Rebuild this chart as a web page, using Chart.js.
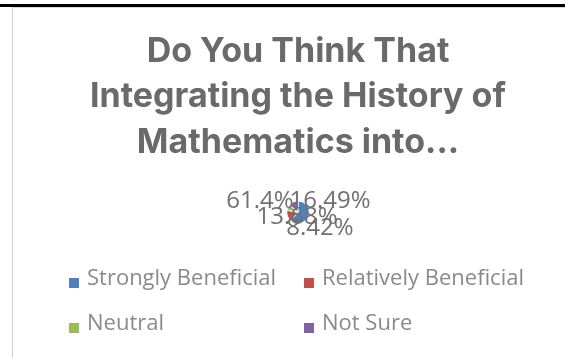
<!DOCTYPE html>
<html>
<head>
<meta charset="utf-8">
<script src="https://cdn.jsdelivr.net/npm/chart.js@4.4.1/dist/chart.umd.min.js"></script>
<style>
  html,body{margin:0;padding:0;background:#fff;}
  body{width:565px;height:358px;position:relative;overflow:hidden;}
  #rule{position:absolute;left:0;top:4px;width:565px;height:3px;background:#000;}
  #frame{position:absolute;left:12px;top:7px;width:600px;height:360px;border-left:1px solid #d0d0d0;border-top:1px solid #d9d9d9;box-sizing:border-box;}
  #c{position:absolute;left:0;top:0;}
</style>
</head>
<body>
<div id="rule"></div>
<div id="frame"></div>
<canvas id="c" width="565" height="358"></canvas>
<script>
const titleLines = ["Do You Think That", "Integrating the History of", "Mathematics into..."];
const categories = ["Strongly Beneficial", "Relatively Beneficial", "Neutral", "Not Sure"];
const values = [61.4, 16.49, 8.42, 13.68];
const valueLabels = ["61.4%", "16.49%", "8.42%", "13.68%"];
const colors = ["#4F81BD", "#C0504D", "#9BBB59", "#8064A2"];

// style: label offsets from pie centre (px)
const labelOffsets = [[-38,-11],[32,-11],[22,16],[-1,5]];

const labelPlugin = {
  id: 'labels',
  afterDatasetsDraw(chart) {
    const ctx = chart.ctx;
    const meta = chart.getDatasetMeta(0);
    const arc0 = meta.data[0];
    const cx = arc0.x, cy = arc0.y;
    ctx.save();
    ctx.font = '24px "Open Sans", sans-serif';
    ctx.fillStyle = '#707070';
    ctx.textAlign = 'center';
    ctx.textBaseline = 'middle';
    meta.data.forEach((arc, i) => {
      const o = labelOffsets[i];
      ctx.fillText(valueLabels[i], cx + o[0], cy + o[1]);
    });
    ctx.restore();
  }
};

const legendPlugin = {
  id: 'gridLegend',
  afterDraw(chart) {
    const ctx = chart.ctx;
    ctx.save();
    ctx.font = '22px "Open Sans", sans-serif';
    ctx.textBaseline = 'middle';
    const colX = [70, 305], rowY = [279, 324];
    categories.forEach((name, i) => {
      const x = colX[i % 2], y = rowY[Math.floor(i / 2)];
      ctx.fillStyle = colors[i];
      ctx.fillRect(x - 1, y - 1, 10, 10);
      ctx.fillStyle = '#8a8a8a';
      ctx.fillText(name, x + 17, y);
    });
    ctx.restore();
  }
};

new Chart(document.getElementById('c'), {
  type: 'pie',
  data: {
    labels: categories,
    datasets: [{ data: values, backgroundColor: colors, borderColor: '#fff', borderWidth: 1 }]
  },
  options: {
    responsive: false,
    animation: false,
    layout: { padding: { left: 31, right: 0, top: 0, bottom: 134 } },
    plugins: {
      legend: { display: false },
      tooltip: { enabled: false },
      title: {
        display: true,
        text: titleLines,
        color: '#6a6a6a',
        font: { family: 'Inter', size: 34, weight: 'bold', lineHeight: 1.338 },
        padding: { top: 29, bottom: 35 }
      }
    }
  },
  plugins: [labelPlugin, legendPlugin]
});
</script>
</body>
</html>
